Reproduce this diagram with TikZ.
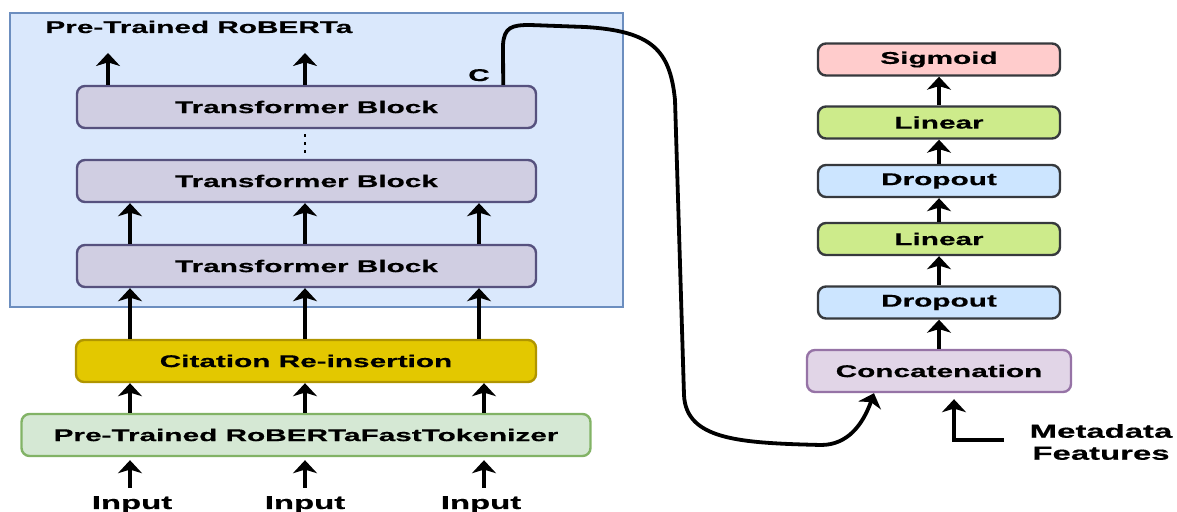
\documentclass[tikz,border=0pt]{standalone}
\usepackage{fontspec}
\setmainfont{Liberation Sans}[FakeStretch=1.75, BoldFeatures={FakeBold=0.5}]
\usetikzlibrary{arrows.meta}
\definecolor{encfill}{HTML}{DAE8FC}
\definecolor{encline}{HTML}{6C8EBF}
\definecolor{tbfill}{HTML}{D0CEE2}
\definecolor{tbline}{HTML}{56517E}
\definecolor{citfill}{HTML}{E3C800}
\definecolor{citline}{HTML}{B09500}
\definecolor{tokfill}{HTML}{D5E8D4}
\definecolor{tokline}{HTML}{82B366}
\definecolor{sigfill}{HTML}{FFCCCC}
\definecolor{linfill}{HTML}{CDEB8B}
\definecolor{dropfill}{HTML}{CCE5FF}
\definecolor{darkline}{HTML}{36393D}
\definecolor{catfill}{HTML}{E1D5E7}
\definecolor{catline}{HTML}{9673A6}
\begin{document}
\begin{tikzpicture}[x=0.5pt,y=-0.5pt,
  lbl/.style={font=\bfseries\fontsize{8.5}{10}\selectfont, text=black},
  biglbl/.style={font=\bfseries\fontsize{9.4}{11}\selectfont, text=black},
  blk/.style={lbl, draw, line width=1.2pt, rounded corners=4pt, inner sep=0pt},
  tbbox/.style={blk, fill=tbfill, draw=tbline, minimum width=229.5pt, minimum height=21pt},
  citbox/.style={blk, fill=citfill, draw=citline, minimum width=230pt, minimum height=21pt},
  tokbox/.style={blk, fill=tokfill, draw=tokline, minimum width=284.5pt, minimum height=21pt},
  headbox/.style={blk, draw=darkline, minimum width=121pt, minimum height=16pt},
  catbox/.style={blk, fill=catfill, draw=catline, minimum width=132pt, minimum height=21pt},
  arr/.style={line width=1.9pt, -{Stealth[length=6.5pt, width=12pt, inset=1.8pt]}},
  dotsty/.style={line width=1.4pt, dash pattern=on 1.4pt off 2.6pt}]
\useasboundingbox (0,0) rectangle (1177,512);

% encoder enclosure
\node[draw=encline, fill=encfill, line width=1.3pt, minimum width=306.5pt, minimum height=147pt, inner sep=0pt] (enc) at (316.5,160) {};
\node[lbl, anchor=base west, inner sep=0pt] (enctitle) at (45,33) {Pre-Trained RoBERTa};

% left column blocks
\node[tbbox] (tb3) at (306.5,107) {Transformer Block};
\node[tbbox] (tb2) at (306.5,181) {Transformer Block};
\node[tbbox] (tb1) at (306.5,266) {Transformer Block};
\node[citbox] (cit) at (306,361) {Citation Re-insertion};
\node[tokbox] (tok) at (306,435) {Pre-Trained RoBERTaFastTokenizer};

% column positions of the token streams
\coordinate (xa) at (130,0);
\coordinate (xb) at (305,0);
\coordinate (xc) at (479,0);
\coordinate (xd) at (484,0);
\coordinate (xt) at (108,0);

% inputs
\node[biglbl, anchor=base] (in1) at (132,509) {Input};
\node[biglbl, anchor=base] (in2) at (305,509) {Input};
\node[biglbl, anchor=base] (in3) at (481,509) {Input};
\coordinate (ia) at (130,488);
\coordinate (ib) at (305,488);
\coordinate (ic) at (484,488);
\draw[arr] (ia) -- ([yshift=-1.5pt]tok.south -| ia);
\draw[arr] (ib) -- ([yshift=-1.5pt]tok.south -| ib);
\draw[arr] (ic) -- ([yshift=-1.5pt]tok.south -| ic);

% tokenizer to citation re-insertion
\draw[arr] (tok.north -| xa) -- (cit.south -| xa);
\draw[arr] (tok.north -| xb) -- (cit.south -| xb);
\draw[arr] (tok.north -| xd) -- (cit.south -| xd);

% citation re-insertion to first block
\draw[arr] (cit.north -| xa) -- (tb1.south -| xa);
\draw[arr] (cit.north -| xb) -- (tb1.south -| xb);
\draw[arr] (cit.north -| xc) -- (tb1.south -| xc);

% between blocks
\draw[arr] (tb1.north -| xa) -- (tb2.south -| xa);
\draw[arr] (tb1.north -| xb) -- (tb2.south -| xb);
\draw[arr] (tb1.north -| xc) -- (tb2.south -| xc);
\draw[dotsty] ([yshift=-2.5pt]tb3.south -| xb) -- ([yshift=0.5pt]tb2.north -| xb);

% outputs of last block
\coordinate (oa) at (108,53);
\coordinate (ob) at (305,53);
\draw[arr] (tb3.north -| xt) -- (oa);
\draw[arr] (tb3.north -| xb) -- (ob);
\node[lbl, anchor=base] (clabel) at (479,81) {C};

% classification head
\node[headbox, fill=sigfill] (sig) at (939,59.5) {Sigmoid};
\node[headbox, fill=linfill] (lin2) at (939,122.5) {Linear};
\node[headbox, fill=dropfill] (drop2) at (939,181) {Dropout};
\node[headbox, fill=linfill] (lin1) at (939,239) {Linear};
\node[headbox, fill=dropfill] (drop1) at (939,302.5) {Dropout};
\node[catbox] (cat) at (939,371) {Concatenation};

\draw[arr] (cat.north) -- (drop1.south);
\draw[arr] (drop1.north) -- (lin1.south);
\draw[arr] (lin1.north) -- (drop2.south);
\draw[arr] (drop2.north) -- (lin2.south);
\draw[arr] (lin2.north) -- (sig.south);

% metadata features
\node[biglbl, align=center] (meta) at (1101,442) {Metadata\\Features};
\coordinate (mend) at (1004,440);
\coordinate (mcorner) at (954,440);
\draw[arr] (mend) -- (mcorner) -- ([yshift=-3pt]cat.south -| mcorner);

% [CLS] embedding routed to the concatenation
\coordinate (cstart) at ([xshift=-17pt]tb3.north east);
\coordinate (ctip) at ([xshift=-32.5pt]cat.south);
\draw[arr] (cstart) -- (503,45) .. controls (504,27) and (512,25) .. (530,25)
  -- (585,27) .. controls (652,31) and (670,50) .. (675,100)
  -- (684,395) .. controls (686,440) and (740,443) .. (821,445)
  .. controls (848,445) and (863,424) .. (ctip);
\end{tikzpicture}
\end{document}
